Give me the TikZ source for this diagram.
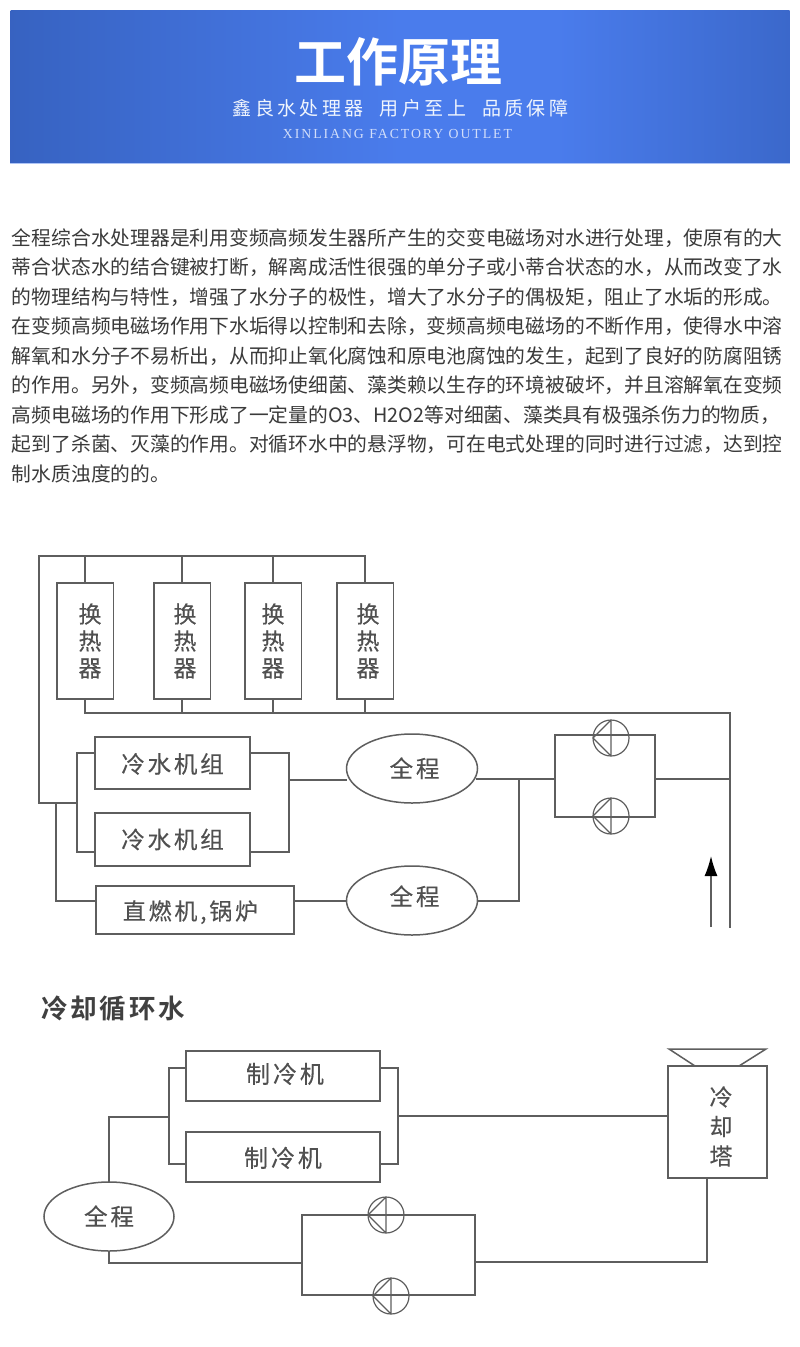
\documentclass[tikz,border=0pt]{standalone}
\usepackage{fontspec}
\usetikzlibrary{shapes.geometric,arrows.meta}
\setmainfont{Noto Sans CJK SC}
\newfontfamily\cjk{Noto Sans CJK SC}
\newfontfamily\cjklabel[FakeBold=0.25]{Noto Sans CJK SC}
\newfontfamily\cjkwide[LetterSpace=12,FakeBold=0.25]{Noto Sans CJK SC}
\newfontfamily\cjksub[LetterSpace=18]{Noto Sans CJK SC}
\newfontfamily\cjkbold[BoldFont={Noto Sans CJK SC Bold}]{Noto Sans CJK SC}
\newfontfamily\latinserif[LetterSpace=14]{Liberation Serif}
\newcommand{\shiftv}[2]{\raisebox{\dimexpr#1-1.8pt\relax}[0.8em][0.2em]{#2}}
\definecolor{bandark}{HTML}{2E57AE}
\definecolor{banlight}{HTML}{4A7CEC}
\definecolor{ink}{HTML}{5E5E5E}
\definecolor{labelink}{HTML}{505050}
\definecolor{para}{HTML}{3A3A3A}
\pgfdeclarehorizontalshading{bannershade}{100bp}{
  color(0bp)=(bandark!92!banlight);
  color(14bp)=(bandark);
  color(50bp)=(banlight);
  color(60bp)=(banlight);
  color(88bp)=(bandark);
  color(100bp)=(bandark)}
\tikzset{
  x=1pt,y=-1pt,
  wire/.style={draw=ink,line width=1.5pt},
  unit/.style={draw=ink,line width=1.5pt,rectangle,inner sep=0pt,outer sep=0pt,text=labelink,align=center},
  oval/.style={draw=ink,line width=1.5pt,ellipse,inner sep=0pt,outer sep=0pt,minimum width=131pt,minimum height=69pt,text=labelink},
  pump/.style={draw=ink,line width=1.2pt,circle,inner sep=0pt,outer sep=0pt,minimum size=36pt,
    path picture={\draw[ink,line width=1.2pt]
      (path picture bounding box.west) -- (path picture bounding box.north)
      -- (path picture bounding box.south) -- cycle;}},
  label/.style={inner sep=0pt,outer sep=0pt,text=ink},
  paraline/.style={inner sep=0pt,outer sep=0pt,anchor=west,text=para,font=\cjk\fontsize{19.76}{24}\selectfont},
  hxbox/.style={unit,minimum width=56.5pt,minimum height=116pt,font=\cjklabel\fontsize{23}{27}\selectfont},
}
\begin{document}
\begin{tikzpicture}
\useasboundingbox (0,0) rectangle (800,1347);
\fill[white] (0,0) rectangle (800,1347);
% banner
\node[minimum width=779pt,minimum height=153pt,inner sep=0pt,outer sep=0pt,shading=bannershade,anchor=north west] (banner) at (10.5,10) {};
\draw[draw=banlight!45!white,line width=1pt] (banner.south west) -- (banner.south east);
\node[label,text=white,font=\cjkbold\bfseries\fontsize{52}{56}\selectfont] (t1) at (398.5,62) {工作原理};
\node[label,text=white!92!banlight,font=\cjksub\fontsize{19}{22}\selectfont] (t2) at (400.5,108) {鑫良水处理器\hspace{16pt}用户至上\hspace{16pt}品质保障};
\node[label,text=white!75!banlight,font=\latinserif\fontsize{13.8}{16}\selectfont] (t3) at (397.5,133.5) {XINLIANG FACTORY OUTLET};
% paragraph
\node[paraline] (p1) at (12,238) {全程综合水处理器是利用变频高频发生器所产生的交变电磁场对水进行处理，使原有的大};
\node[paraline] (p2) at (12,267.5) {蒂合状态水的结合键被打断，解离成活性很强的单分子或小蒂合状态的水，从而改变了水};
\node[paraline] (p3) at (12,297) {的物理结构与特性，增强了水分子的极性，增大了水分子的偶极矩，阻止了水垢的形成。};
\node[paraline] (p4) at (12,326.5) {在变频高频电磁场作用下水垢得以控制和去除，变频高频电磁场的不断作用，使得水中溶};
\node[paraline] (p5) at (12,356) {解氧和水分子不易析出，从而抑止氧化腐蚀和原电池腐蚀的发生，起到了良好的防腐阻锈};
\node[paraline] (p6) at (12,385.5) {的作用。另外，变频高频电磁场使细菌、藻类赖以生存的环境被破坏，并且溶解氧在变频};
\node[paraline] (p7) at (12,415) {高频电磁场的作用下形成了一定量的O3、H2O2等对细菌、藻类具有极强杀伤力的物质，};
\node[paraline] (p8) at (12,444.5) {起到了杀菌、灭藻的作用。对循环水中的悬浮物，可在电式处理的同时进行过滤，达到控};
\node[paraline] (p9) at (12,474) {制水质浊度的的。};
% upper diagram: heat exchangers
\node[hxbox] (hx1) at (85,641) {\hspace{10pt}换\\\hspace{10pt}热\\\hspace{10pt}器};
\node[hxbox] (hx2) at (182,641) {\hspace{6pt}换\\\hspace{6pt}热\\\hspace{6pt}器};
\node[hxbox] (hx3) at (273,641) {换\\热\\器};
\node[hxbox] (hx4) at (365,641) {\hspace{6pt}换\\\hspace{6pt}热\\\hspace{6pt}器};
% chillers
\node[unit,minimum width=155pt,minimum height=52pt,font=\cjkwide\fontsize{23.5}{27}\selectfont] (ch1) at (172.5,763) {\shiftv{-1pt}{冷水机组}};
\node[unit,minimum width=155pt,minimum height=53pt,font=\cjkwide\fontsize{23.5}{27}\selectfont] (ch2) at (172.5,839.5) {\shiftv{0pt}{冷水机组}};
\node[unit,minimum width=198pt,minimum height=48pt,font=\cjkwide\fontsize{23}{27}\selectfont] (boiler) at (195,910) {\shiftv{-1pt}{直燃机,锅炉}\hspace{9pt}};
\node[oval,font=\cjkwide\fontsize{23.5}{27}\selectfont] (ov1) at (412,768.5) {\hspace{5pt}\shiftv{0pt}{全程}};
\node[oval,font=\cjkwide\fontsize{23.5}{27}\selectfont] (ov2) at (412,900.5) {\hspace{5pt}\shiftv{4pt}{全程}};
% coordinates of upper pipes
\coordinate (topL) at (39,556);
\coordinate (topR) at (hx4.north |- topL);
\coordinate (j1) at (hx1.north |- topL);
\coordinate (j2) at (hx2.north |- topL);
\coordinate (j3) at (hx3.north |- topL);
\coordinate (botL) at (hx1.south |- 0,713);
\coordinate (b2) at (hx2.south |- 0,713);
\coordinate (b3) at (hx3.south |- 0,713);
\coordinate (b4) at (hx4.south |- 0,713);
\coordinate (botR) at (730,713);
\coordinate (endR) at (730,928);
\coordinate (retL) at (39,803);
\coordinate (busL) at (77,803);
\coordinate (busLa) at (77,753);
\coordinate (busLb) at (77,852);
\coordinate (busRa) at (289,753);
\coordinate (busRb) at (289,852);
\coordinate (busRm) at (289,780);
\coordinate (brA) at (56,803);
\coordinate (brB) at (56,901);
\coordinate (mergeTop) at (519,779);
\coordinate (mergeBot) at (519,901);
\coordinate (frTL) at (555,735);
\coordinate (frBR) at (655,817);
\coordinate (frLm) at (555,779);
\coordinate (frRm) at (655,779);
\coordinate (riserJ) at (730,779);
\coordinate (oe1) at (476,779);
\coordinate (arrowA) at (711,927);
\coordinate (arrowB) at (711,856);
% pipes
\draw[wire] (hx1.north) -- (j1);
\draw[wire] (hx2.north) -- (j2);
\draw[wire] (hx3.north) -- (j3);
\draw[wire] (hx4.north) -- (topR) -- (topL) -- (retL) -- (busL);
\draw[wire] (hx1.south) -- (botL) -- (botR) -- (endR);
\draw[wire] (hx2.south) -- (b2);
\draw[wire] (hx3.south) -- (b3);
\draw[wire] (hx4.south) -- (b4);
\draw[wire] (ch1.west |- busLa) -- (busLa) -- (busLb) -- (ch2.west |- busLb);
\draw[wire] (ch1.east |- busRa) -- (busRa) -- (busRb) -- (ch2.east |- busRb);
\draw[wire] (busRm) -- (ov1.west |- busRm);
\draw[wire] (brA) -- (brB) -- (boiler.west |- brB);
\draw[wire] (boiler.east |- brB) -- (ov2.west |- brB);
\draw[wire] (oe1) -- (frLm);
\draw[wire] (mergeTop) -- (mergeBot) -- (ov2.east |- mergeBot);
\draw[wire] (frTL) rectangle (frBR);
\draw[wire] (frRm) -- (riserJ);
\node[pump] (pu1) at (611,738) {};
\node[pump] (pu2) at (611,816) {};
\draw[draw=ink,line width=1.5pt,-{Latex[length=20pt,width=13pt,color=black]}] (arrowA) -- (arrowB);
% lower diagram
\node[label,font=\cjkbold\bfseries\fontsize{26.5}{30}\selectfont,text=black!75,anchor=west] (title2) at (41,1009) {\addfontfeature{LetterSpace=11}冷却循环水};
\node[unit,minimum width=194pt,minimum height=50pt,font=\cjkwide\fontsize{24}{26}\selectfont] (co1) at (283,1076) {\hspace{4pt}\shiftv{2pt}{制冷机}};
\node[unit,minimum width=194pt,minimum height=50pt,font=\cjkwide\fontsize{24}{26}\selectfont] (co2) at (283,1157) {\shiftv{-1pt}{制冷机}};
\node[unit,minimum width=99pt,minimum height=112pt,font=\cjklabel\fontsize{23}{29.5}\selectfont] (tower) at (717.5,1122) {\hspace{7pt}\shiftv{-4.5pt}{冷}\\\hspace{7pt}\shiftv{-4.5pt}{却}\\\hspace{7pt}\shiftv{-4.5pt}{塔}};
\node[oval,minimum width=130pt,minimum height=69pt,font=\cjkwide\fontsize{23.5}{27}\selectfont] (ov3) at (109,1216.5) {\shiftv{0pt}{全程}};
\coordinate (lbA) at (169,1068);
\coordinate (lbB) at (169,1164);
\coordinate (lbM) at (169,1117);
\coordinate (rbA) at (398,1068);
\coordinate (rbB) at (398,1164);
\coordinate (rbM) at (398,1116);
\coordinate (feedC) at (ov3.north |- lbM);
\coordinate (ovB) at (ov3.south |- 0,1263);
\coordinate (fl) at (302,1263);
\coordinate (fTL) at (302,1215);
\coordinate (fBR) at (475,1295);
\coordinate (fr) at (475,1262);
\coordinate (twB) at (707,1262);
\coordinate (twT) at (707,1178);
\coordinate (coneTL) at (669,1049);
\coordinate (coneTR) at (766,1049);
\coordinate (coneBL) at (695,1066);
\coordinate (coneBR) at (739,1066);
\draw[wire] (co1.west |- lbA) -- (lbA) -- (lbB) -- (co2.west |- lbB);
\draw[wire] (co1.east |- rbA) -- (rbA) -- (rbB) -- (co2.east |- rbB);
\draw[wire] (ov3.north) -- (feedC) -- (lbM);
\draw[wire] (rbM) -- (tower.west |- rbM);
\draw[wire] (ov3.south) -- (ovB) -- (fl);
\draw[wire] (fTL) rectangle (fBR);
\draw[wire] (fr) -- (twB) -- (twT);
\draw[wire] (coneBL) -- (coneTL) -- (coneTR) -- (coneBR);
\node[pump] (pu3) at (386,1215) {};
\node[pump] (pu4) at (391,1296) {};
\end{tikzpicture}
\end{document}
